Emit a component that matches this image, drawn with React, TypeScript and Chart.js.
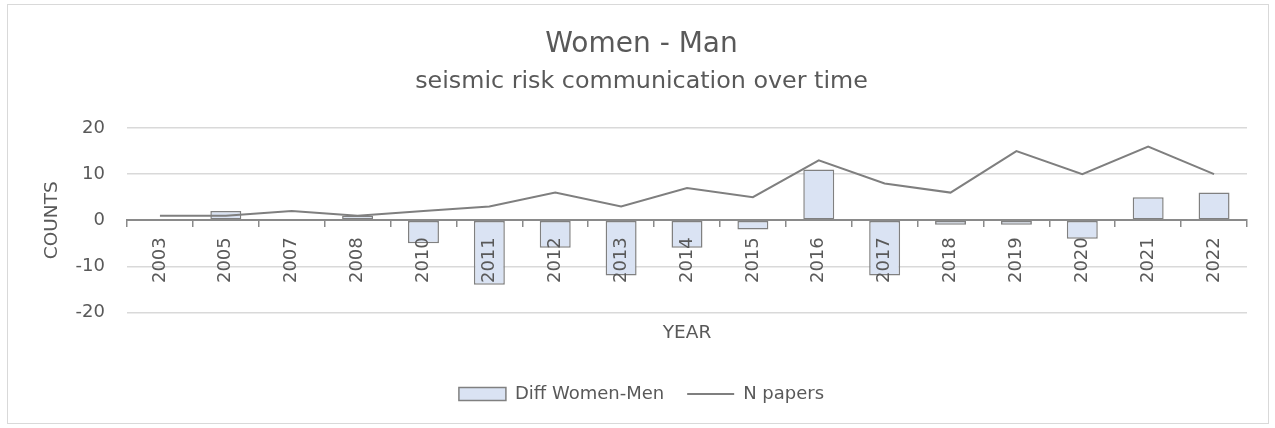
import React, { useEffect, useRef } from "react";
import { Chart, registerables } from "chart.js";

Chart.register(...registerables);

const years = ["2003", "2005", "2007", "2008", "2010", "2011", "2012", "2013", "2014", "2015", "2016", "2017", "2018", "2019", "2020", "2021", "2022"];
const diffWomenMen = [0, 2, 0, 1, -5, -14, -6, -12, -6, -2, 11, -12, -1, -1, -4, 5, 6];
const nPapers = [1, 1, 2, 1, 2, 3, 6, 3, 7, 5, 13, 8, 6, 15, 10, 16, 10];
const yMin = -20;
const yMax = 20;
const yStep = 10;

const FONT = "'DejaVu Sans'";
const TEXT = "#595959";

export default function App() {
  const ref = useRef<HTMLCanvasElement>(null);
  useEffect(() => {
    Chart.defaults.font.family = FONT;
    Chart.defaults.color = TEXT;
    const chart = new Chart(ref.current!, {
      type: "bar",
      data: {
        labels: years,
        datasets: [
          {
            type: "bar",
            label: "Diff Women-Men",
            data: diffWomenMen,
            backgroundColor: "#dae3f3",
            borderColor: "#808080",
            borderWidth: 1.5,
            borderSkipped: false,
            barPercentage: 0.47,
            categoryPercentage: 1,
            pointStyle: "rect",
            order: 2,
          } as any,
          {
            type: "line",
            label: "N papers",
            data: nPapers,
            borderColor: "#7f7f7f",
            backgroundColor: "#7f7f7f",
            borderWidth: 2,
            pointRadius: 0,
            pointStyle: "line",
            tension: 0,
            order: 1,
          } as any,
        ],
      },
      options: {
        responsive: false,
        animation: false,
        layout: { padding: { left: 28, right: 21, top: 0, bottom: 10 } },
        plugins: {
          tooltip: { enabled: false },
          title: {
            display: true,
            text: "Women - Man",
            color: TEXT,
            font: { family: FONT, size: 28, weight: "normal" },
            padding: { top: 23, bottom: 4 },
          },
          subtitle: {
            display: true,
            text: "seismic risk communication over time",
            color: TEXT,
            font: { family: FONT, size: 23.8, weight: "normal" },
            padding: { top: 1.5, bottom: 32.5 },
          },
          legend: {
            display: true,
            position: "bottom",
            labels: {
              usePointStyle: true,
              pointStyleWidth: 47,
              boxHeight: 13,
              color: TEXT,
              font: { family: FONT, size: 18 },
              padding: 23,
              sort: (a: any, b: any) => a.datasetIndex - b.datasetIndex,
            },
          },
        },
        scales: {
          x: {
            type: "category",
            position: { y: 0 } as any,
            offset: true,
            grid: {
              offset: true,
              drawOnChartArea: false,
              drawTicks: true,
              tickLength: 6,
              color: "#8a8a8a",
              lineWidth: 1.5,
              z: 1,
            },
            border: { display: true, color: "#8a8a8a", width: 2, z: 1 },
            ticks: {
              autoSkip: false,
              minRotation: 90,
              maxRotation: 90,
              padding: 11,
              color: TEXT,
              z: 1,
              font: { family: FONT, size: 18 },
            },
          },
          x2: {
            type: "category",
            position: "bottom",
            grid: { display: false, drawTicks: false },
            border: { display: false },
            ticks: { display: false },
            title: {
              display: true,
              text: "YEAR",
              color: TEXT,
              font: { family: FONT, size: 18.5 },
              padding: { top: 10, bottom: 17.5 },
            },
          },
          y: {
            min: yMin,
            max: yMax,
            ticks: {
              stepSize: yStep,
              padding: 22,
              color: TEXT,
              font: { family: FONT, size: 18 },
            },
            grid: { color: "#d9d9d9", lineWidth: 1.5, drawTicks: false },
            border: { display: false },
            title: {
              display: true,
              text: "COUNTS",
              color: TEXT,
              font: { family: FONT, size: 18.5 },
              padding: { top: 5, bottom: 8 },
            },
            afterFit: (s: any) => {
              s.width = 91;
            },
          },
        },
      } as any,
    });
    return () => chart.destroy();
  }, []);

  return (
    <div style={{ position: "fixed", left: 0, top: 0, width: 1275, height: 428, background: "#fff" }}>
      <div
        style={{
          position: "absolute",
          left: 7,
          top: 4,
          width: 1262,
          height: 420,
          border: "1px solid #d9d9d9",
          boxSizing: "border-box",
        }}
      >
        <canvas ref={ref} width={1260} height={418} style={{ display: "block", width: 1260, height: 418 }} />
      </div>
    </div>
  );
}
